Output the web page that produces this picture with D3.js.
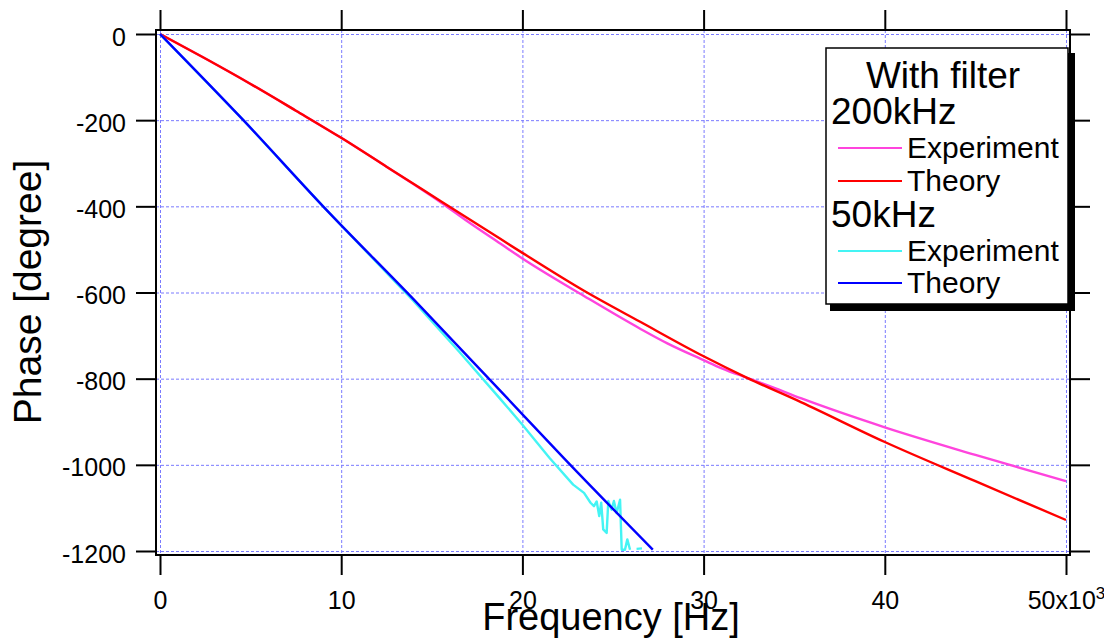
<!DOCTYPE html>
<html>
<head>
<meta charset="utf-8">
<script src="https://cdn.jsdelivr.net/npm/d3@7"></script>
<style>
  body { margin: 0; background: #fff; }
  text { font-family: "Liberation Sans", Arial, sans-serif; }
</style>
</head>
<body>
<div id="chart"></div>
<script>
// ─── DATA ───────────────────────────────────────────────────────
const xTicks = [0, 10000, 20000, 30000, 40000, 50000]
const yTicks = [0, -200, -400, -600, -800, -1000, -1200]

// 200kHz filter
const exp200Freq = [0, 2500, 5000, 7500, 10000, 12500, 14000, 15500, 17000, 18800, 20000, 23400, 26500, 28000, 30000, 31000, 32400, 33500, 35400, 40000, 45000, 50000]
const exp200Phase = [0, -57, -116, -178, -241, -308, -349, -391, -436, -487, -521, -608, -684, -718, -757, -776, -798, -815, -846, -913, -977, -1038]
const theo200Freq = [0, 2500, 5000, 7500, 10000, 12500, 15500, 18800, 20000, 23400, 26500, 30000, 32400, 35400, 40000, 45000, 50000]
const theo200Phase = [0, -57, -116, -178, -241, -308, -388, -476, -508, -596, -668, -748, -798, -855, -947, -1038, -1128]

// 50kHz filter
const exp50Freq = [0, 4600, 9000, 14000, 16500, 18800, 20000, 21500, 22800, 23400, 23760, 23950, 24100, 24240, 24350, 24460, 24650, 24740, 24920, 25050, 25200, 25390, 25480, 25660, 25790, 25940, 26100, 26300, 26600]
const exp50Phase = [0, -200, -400, -620, -737, -848, -907, -984, -1046, -1065, -1088, -1096, -1085, -1119, -1088, -1150, -1158, -1084, -1104, -1084, -1112, -1081, -1197, -1197, -1173, -1197, null, -1195, -1194]
const theo50Freq = [0, 4600, 9000, 14000, 18800, 22300, 27200]
const theo50Phase = [0, -200, -400, -616, -829, -985, -1197]

const legendRows = [
  { label: 'Experiment', color: '#ff44dd' },
  { label: 'Theory', color: '#ff0000' },
  { label: 'Experiment', color: '#44f4f4' },
  { label: 'Theory', color: '#0000ff' }
]

// ─── SVG ────────────────────────────────────────────────────────
const W = 1104, H = 638
const FRAME = { LEFT: 156, RIGHT: 1070, TOP: 30, BOTTOM: 555 }

const svg = d3.select('#chart').append('svg')
  .attr('width', W)
  .attr('height', H)

const x = d3.scaleLinear().domain([0, 50000]).range([160, 1066])
const y = d3.scaleLinear().domain([0, -1200]).range([34, 551])

// grid
const grid = svg.append('g')
  .attr('stroke', '#7a7aff')
  .attr('stroke-width', 1)
  .attr('stroke-dasharray', '3,2')
grid.selectAll('.gx').data(xTicks).enter().append('line')
  .attr('x1', d => x(d) + 0.5).attr('x2', d => x(d) + 0.5)
  .attr('y1', FRAME.TOP).attr('y2', FRAME.BOTTOM)
grid.selectAll('.gy').data(yTicks).enter().append('line')
  .attr('y1', d => y(d) + 0.5).attr('y2', d => y(d) + 0.5)
  .attr('x1', FRAME.LEFT).attr('x2', FRAME.RIGHT)

// ─── LINES ──────────────────────────────────────────────────────
const smooth = d3.line()
  .defined(d => d[1] !== null)
  .curve(d3.curveMonotoneX)
  .x(d => x(d[0]))
  .y(d => y(d[1]))
const straight = d3.line()
  .defined(d => d[1] !== null)
  .x(d => x(d[0]))
  .y(d => y(d[1]))

const series = [
  { f: exp200Freq, p: exp200Phase, color: legendRows[0].color, gen: smooth },
  { f: theo200Freq, p: theo200Phase, color: legendRows[1].color, gen: smooth },
  { f: exp50Freq, p: exp50Phase, color: legendRows[2].color, gen: straight },
  { f: theo50Freq, p: theo50Phase, color: legendRows[3].color, gen: smooth }
]

svg.selectAll('.series').data(series).enter().append('path')
  .attr('fill', 'none')
  .attr('stroke', d => d.color)
  .attr('stroke-width', 2.4)
  .attr('stroke-linejoin', 'round')
  .attr('d', d => d.gen(d.f.map((f, i) => [f, d.p[i]])))

// ─── FRAME + AXES ───────────────────────────────────────────────
svg.append('rect')
  .attr('x', FRAME.LEFT).attr('y', FRAME.TOP)
  .attr('width', FRAME.RIGHT - FRAME.LEFT)
  .attr('height', FRAME.BOTTOM - FRAME.TOP)
  .attr('fill', 'none')
  .attr('stroke', '#000')
  .attr('stroke-width', 2)

function styleAxis(g) {
  g.select('.domain').remove()
  g.selectAll('.tick line').attr('stroke', '#000').attr('stroke-width', 2)
  g.selectAll('.tick text').attr('fill', '#000').attr('font-size', 25)
    .attr('font-family', '"Liberation Sans", Arial, sans-serif')
}

const xAxisGroup = svg.append('g')
  .attr('transform', `translate(0, ${FRAME.BOTTOM})`)
  .call(d3.axisBottom(x).tickValues(xTicks).tickSize(20).tickPadding(16)
    .tickFormat(d => d === 50000 ? '' : String(d / 1000)))
  .call(styleAxis)

// last label 50x10^3
xAxisGroup.selectAll('.tick text').filter(d => d === 50000)
  .each(function () {
    const t = d3.select(this)
    t.append('tspan').text('50x10')
    t.append('tspan').attr('font-size', 17).attr('dy', '-0.55em').text('3')
  })

svg.append('g')
  .attr('transform', `translate(0, ${FRAME.TOP})`)
  .call(d3.axisTop(x).tickValues(xTicks).tickSize(20).tickFormat(''))
  .call(styleAxis)

svg.append('g')
  .attr('transform', `translate(${FRAME.LEFT}, 0)`)
  .call(d3.axisLeft(y).tickValues(yTicks).tickSize(20).tickPadding(10)
    .tickFormat(d => String(d)))
  .call(styleAxis)
  .selectAll('.tick text').attr('dy', '0.44em')

svg.append('g')
  .attr('transform', `translate(${FRAME.RIGHT}, 0)`)
  .call(d3.axisRight(y).tickValues(yTicks).tickSize(20).tickFormat(''))
  .call(styleAxis)

// ─── LABELS ─────────────────────────────────────────────────────
svg.append('text')
  .attr('x', 611)
  .attr('y', 630)
  .attr('font-size', 38)
  .attr('text-anchor', 'middle')
  .text('Frequency [Hz]')

svg.append('text')
  .attr('transform', 'translate(41, 292) rotate(-90)')
  .attr('font-size', 39)
  .attr('text-anchor', 'middle')
  .text('Phase [degree]')

// ─── LEGEND ─────────────────────────────────────────────────────
const legend = svg.append('g')
legend.append('rect')
  .attr('x', 830).attr('y', 53).attr('width', 245).attr('height', 258)
  .attr('fill', '#000')
legend.append('rect')
  .attr('x', 826).attr('y', 48).attr('width', 242).attr('height', 256)
  .attr('fill', '#fff')
  .attr('stroke', '#000')
  .attr('stroke-width', 1.5)

legend.append('text').attr('x', 943).attr('y', 88).attr('font-size', 37)
  .attr('text-anchor', 'middle').text('With filter')
legend.append('text').attr('x', 831).attr('y', 124).attr('font-size', 37).text('200kHz')
legend.append('text').attr('x', 831).attr('y', 227).attr('font-size', 37).text('50kHz')

const rowY = [148, 181, 251, 283]
const rows = legend.selectAll('.row').data(legendRows).enter().append('g')
  .attr('transform', (d, i) => `translate(0, ${rowY[i]})`)
rows.append('line')
  .attr('x1', 838).attr('x2', 902)
  .attr('stroke', d => d.color)
  .attr('stroke-width', 2)
rows.append('text')
  .attr('x', 907).attr('y', 10)
  .attr('font-size', 30)
  .text(d => d.label)
</script>
</body>
</html>
